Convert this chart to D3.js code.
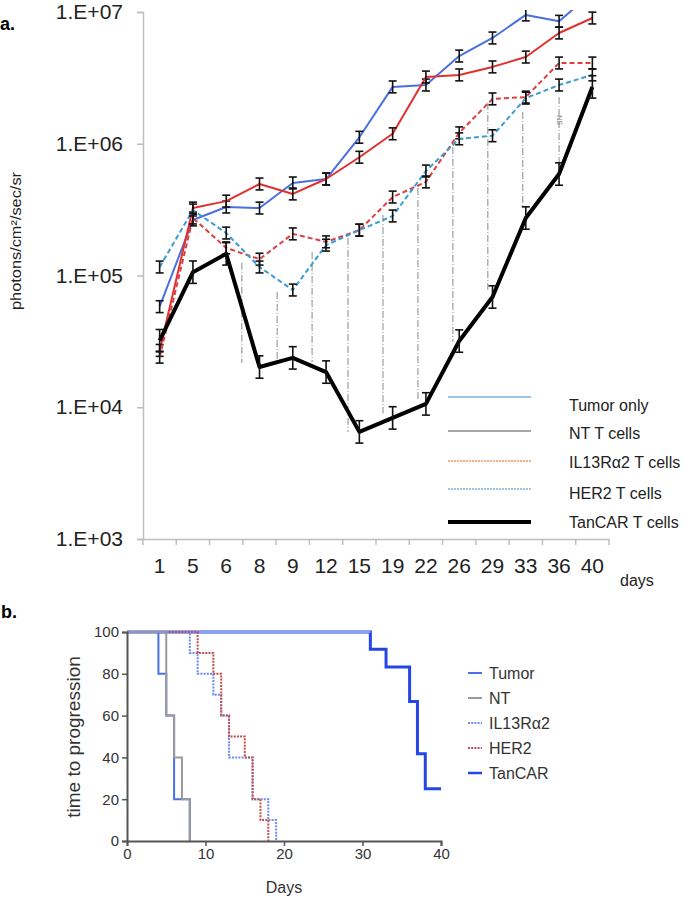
<!DOCTYPE html>
<html><head><meta charset="utf-8">
<script src="https://cdn.jsdelivr.net/npm/d3@7"></script>
<style>
html,body{margin:0;padding:0;background:#fff;}
svg{display:block;font-family:"Liberation Sans",Arial,sans-serif;}
</style></head>
<body>
<svg id="chart" width="685" height="897"></svg>
<script>
// ---------- Panel a data ----------
const days = ["1","5","6","8","9","12","15","19","22","26","29","33","36","40"];
const seriesNames = ["Tumor only","NT T cells","IL13R\u03b12 T cells","HER2 T cells","TanCAR T cells"];
const tumorOnly   = [5.8e4,2.64e5,3.31e5,3.25e5,5.04e5,5.4e5,1.12e6,2.7e6,2.79e6,4.63e6,6.35e6,9.5e6,8.5e6,1.4e7];
const ntCells     = [2.7e4,3.25e5,3.67e5,4.95e5,4.16e5,5.4e5,7.9e5,1.19e6,3.21e6,3.33e6,3.83e6,4.55e6,6.93e6,9.0e6];
const il13Cells   = [2.4e4,2.73e5,1.62e5,1.33e5,2.07e5,1.8e5,2.21e5,3.94e5,5.13e5,1.21e6,2.19e6,2.26e6,4.1e6,4.1e6];
const her2Cells   = [1.16e5,3.14e5,2.1e5,1.16e5,7.76e4,1.7e5,2.21e5,2.83e5,6.21e5,1.09e6,1.15e6,2.22e6,2.79e6,3.33e6];
const tancarCells = [3.2e4,1.06e5,1.46e5,2.02e4,2.37e4,1.85e4,6.5e3,8.3e3,1.06e4,3.18e4,6.87e4,2.73e5,5.89e5,2.7e6];
const errLog = [0.045,0.045,0.045,0.045,0.085]; // half-width of error bars, in decades
const yTicksA = [1e3,1e4,1e5,1e6,1e7];
// significance guide lines (position in category units, top value, bottom value)
const guidePos    = [2.97,4.03,5.08,6.16,7.21,8.26,9.31,10.36,11.41,12.5];
const guideTop    = [1.25e5,7.5e4,1.51e5,1.93e5,2.88e5,4.61e5,9.45e5,2.04e6,1.74e6,2.26e6];
const guideBottom = [2.17e4,2.17e4,2.2e4,6.5e3,9.0e3,1.13e4,3.13e4,7.76e4,3.31e5,7.14e5];

// ---------- Panel b data ----------
const kmNames = ["Tumor","NT","IL13R\u03b12","HER2","TanCAR"];
const tumorT = [0,4,5,6,8],            tumorS = [100,80,60,20,0];
const ntT    = [0,5,6,7,8],            ntS    = [100,60,40,20,0];
const il13T  = [0,8,9,11,12,13,16,18,19], il13S = [100,90,80,70,60,40,20,10,0];
const her2T  = [0,9,11,12,13,15,16,17,18], her2S = [100,90,80,60,50,40,20,10,0];
const tancarT = [0,31,33,36,37,38,40], tancarS = [100,91.7,83.3,66.7,41.7,25,25];
const xTicksB = [0,10,20,30,40];
const yTicksB = [0,20,40,60,80,100];

const svg = d3.select("#chart");

// ================= Panel a =================
const xA = d3.scaleBand().domain(days).range([143,609]).padding(0);
const xLin = d3.scaleLinear().domain([0,days.length]).range([143,609]);
const yA = d3.scaleLog().domain([1e3,1e7]).range([539,12]);

svg.append("text").attr("x",0).attr("y",30).attr("font-size",18).attr("font-weight","bold").text("a.");

// y axis
const gy = svg.append("g").attr("transform","translate(143,0)")
  .call(d3.axisLeft(yA).tickValues(yTicksA).tickSize(6).tickPadding(14)
     .tickFormat(d=>"1.E+0"+Math.round(Math.log10(d))));
gy.select(".domain").attr("stroke","#bfbfbf").attr("stroke-width",1.5);
gy.selectAll(".tick line").attr("stroke","#bfbfbf").attr("stroke-width",1.5);
gy.selectAll(".tick text").attr("font-size",21).attr("fill","#222").attr("font-family","Liberation Sans, Arial, sans-serif");

// x axis
const gx = svg.append("g").attr("transform","translate(0,539)")
  .call(d3.axisBottom(xA).tickSize(0).tickPadding(19));
gx.select(".domain").attr("stroke","#bfbfbf").attr("stroke-width",1.5);
gx.selectAll(".tick text").attr("font-size",21).attr("fill","#222").attr("font-family","Liberation Sans, Arial, sans-serif");
svg.append("g").selectAll("line").data(d3.range(days.length+1)).join("line")
  .attr("x1",d=>xLin(d)).attr("x2",d=>xLin(d)).attr("y1",539).attr("y2",545)
  .attr("stroke","#bfbfbf").attr("stroke-width",1.5);

svg.append("text").attr("x",620).attr("y",586).attr("font-size",16).attr("fill","#222").text("days");

// y label
svg.append("text").attr("transform","translate(21,241) rotate(-90)")
  .attr("text-anchor","middle").attr("font-size",14).attr("fill","#222")
  .attr("textLength",138).attr("lengthAdjust","spacingAndGlyphs")
  .text("photons/cm\u00b2/sec/sr");

// guide lines
svg.append("g").selectAll("line").data(guidePos).join("line")
  .attr("x1",d=>xLin(d)).attr("x2",d=>xLin(d))
  .attr("y1",(d,i)=>yA(guideTop[i])).attr("y2",(d,i)=>yA(guideBottom[i]))
  .attr("stroke","#8a8a8a").attr("stroke-width",1).attr("stroke-dasharray","7,2,1,2");
svg.append("text").attr("transform",`translate(${xLin(12.5)-2},120) rotate(90)`)
  .attr("text-anchor","middle").attr("font-size",7).attr("fill","#777").text("NS");

// clip
svg.append("clipPath").attr("id","clipA").append("rect").attr("x",130).attr("y",10).attr("width",500).attr("height",540);

const seriesA = [
  {v:tumorOnly, color:"#4b6fe3", w:2,   dash:null},
  {v:ntCells,   color:"#e0302f", w:2,   dash:null},
  {v:il13Cells, color:"#d9403f", w:2,   dash:"5,3"},
  {v:her2Cells, color:"#3c9ad6", w:2,   dash:"5,3"},
  {v:tancarCells,color:"#000",   w:4,   dash:null}
];
const cx = d => xA(d)+xA.bandwidth()/2;
const line = d3.line().x((d,i)=>cx(days[i])).y(d=>yA(d));
const plot = svg.append("g").attr("clip-path","url(#clipA)");
seriesA.forEach((s,k)=>{
  plot.append("path").datum(s.v).attr("d",line).attr("fill","none")
    .attr("stroke",s.color).attr("stroke-width",s.w).attr("stroke-linejoin","round")
    .attr("stroke-dasharray",s.dash);
  const pts = s.v.map((v,i)=>({v,x:cx(days[i])})).filter(p=>p.v<1e7);
  const eb = plot.append("g").selectAll("g").data(pts).join("g");
  eb.append("line").attr("x1",p=>p.x).attr("x2",p=>p.x)
    .attr("y1",p=>yA(p.v*Math.pow(10,errLog[k]))).attr("y2",p=>yA(p.v/Math.pow(10,errLog[k])))
    .attr("stroke","#111").attr("stroke-width",1.6);
  [1,-1].forEach(sg=>{
    eb.append("line").attr("x1",p=>p.x-4).attr("x2",p=>p.x+4)
      .attr("y1",p=>yA(p.v*Math.pow(10,sg*errLog[k]))).attr("y2",p=>yA(p.v*Math.pow(10,sg*errLog[k])))
      .attr("stroke","#111").attr("stroke-width",1.6);
  });
});

// legend a
const legA = [
  {color:"#9dc3e6", w:1.8, dash:null},
  {color:"#a6a6a6", w:2,   dash:null},
  {color:"#f4b183", w:1.8, dash:"2,1"},
  {color:"#9dc3e6", w:1.8, dash:"2,1"},
  {color:"#000",    w:4,   dash:null}
];
const legALineY = [397,431,461,489,522];
const legATextY = [405,433,462,493,522];
legA.forEach((s,i)=>{
  svg.append("line").attr("x1",448).attr("x2",531).attr("y1",legALineY[i]).attr("y2",legALineY[i])
    .attr("stroke",s.color).attr("stroke-width",s.w).attr("stroke-dasharray",s.dash);
  svg.append("text").attr("x",569).attr("y",legATextY[i]+6).attr("font-size",16).attr("fill","#222")
    .text(seriesNames[i]);
});

// ================= Panel b =================
svg.append("text").attr("x",1).attr("y",618).attr("font-size",18).attr("font-weight","bold").text("b.");

const xB = d3.scaleLinear().domain([0,40]).range([127,441]);
const yB = d3.scaleLinear().domain([0,100]).range([841,632]);

const stepLine = d3.line().curve(d3.curveStepAfter).x(d=>xB(d[0])).y(d=>yB(d[1]));
const kmSeries = [
  {t:tancarT, s:tancarS, color:"#2446e6", w:3, dash:null},
  {t:tumorT, s:tumorS, color:"#4b6fe6", w:2, dash:null},
  {t:il13T,  s:il13S,  color:"#6b8cf0", w:2, dash:"2,1.2"},
  {t:her2T,  s:her2S,  color:"#c0504d", w:2, dash:"2,1.2"},
  {t:ntT,    s:ntS,    color:"#9a9a9a", w:2, dash:null}
];
kmSeries.forEach((s,k)=>{
  const pts = s.t.map((t,i)=>[t,s.s[i]]);
  if(k===0){
    // plateau at 100% drawn lighter, as in the reference
    const firstDrop = pts.findIndex(p=>p[1]<100);
    svg.append("path").datum(pts.slice(firstDrop-1)).attr("d",stepLine).attr("fill","none")
      .attr("stroke",s.color).attr("stroke-width",s.w);
    svg.append("path").datum([pts[0],[pts[firstDrop][0],100]]).attr("d",stepLine).attr("fill","none")
      .attr("stroke","#86a2f2").attr("stroke-width",2.2);
  } else {
    svg.append("path").datum(pts).attr("d",stepLine).attr("fill","none")
      .attr("stroke",s.color).attr("stroke-width",s.w).attr("stroke-dasharray",s.dash);
  }
});
// axes
const gyB = svg.append("g").attr("transform","translate(127,0)")
  .call(d3.axisLeft(yB).tickValues(yTicksB).tickSize(5).tickPadding(3));
const gxB = svg.append("g").attr("transform","translate(0,841)")
  .call(d3.axisBottom(xB).tickValues(xTicksB).tickSize(5).tickPadding(2));
[gyB,gxB].forEach(g=>{
  g.select(".domain").attr("stroke","#555").attr("stroke-width",2);
  g.selectAll(".tick line").attr("stroke","#555").attr("stroke-width",1.5);
  g.selectAll(".tick text").attr("font-size",15).attr("fill","#333").attr("font-family","Liberation Sans, Arial, sans-serif");
});
svg.append("text").attr("x",284).attr("y",893).attr("text-anchor","middle").attr("font-size",16).attr("fill","#333").text("Days");
svg.append("text").attr("transform","translate(80,737) rotate(-90)").attr("text-anchor","middle")
  .attr("font-size",19).attr("fill","#333").text("time to progression");

// legend b
const legBY = [673,698,723,748,773];
const legB = [
  {color:"#4b6fe6", w:2, dash:null},
  {color:"#9a9a9a", w:2, dash:null},
  {color:"#6b8cf0", w:2, dash:"2,1.2"},
  {color:"#c0504d", w:2, dash:"2,1.2"},
  {color:"#2446e6", w:2.5, dash:null}
];
legB.forEach((s,i)=>{
  svg.append("line").attr("x1",468).attr("x2",482).attr("y1",legBY[i]).attr("y2",legBY[i])
    .attr("stroke",s.color).attr("stroke-width",s.w).attr("stroke-dasharray",s.dash);
  svg.append("text").attr("x",489).attr("y",legBY[i]+6).attr("font-size",16).attr("fill","#333").text(kmNames[i]);
});
</script>
</body></html>
